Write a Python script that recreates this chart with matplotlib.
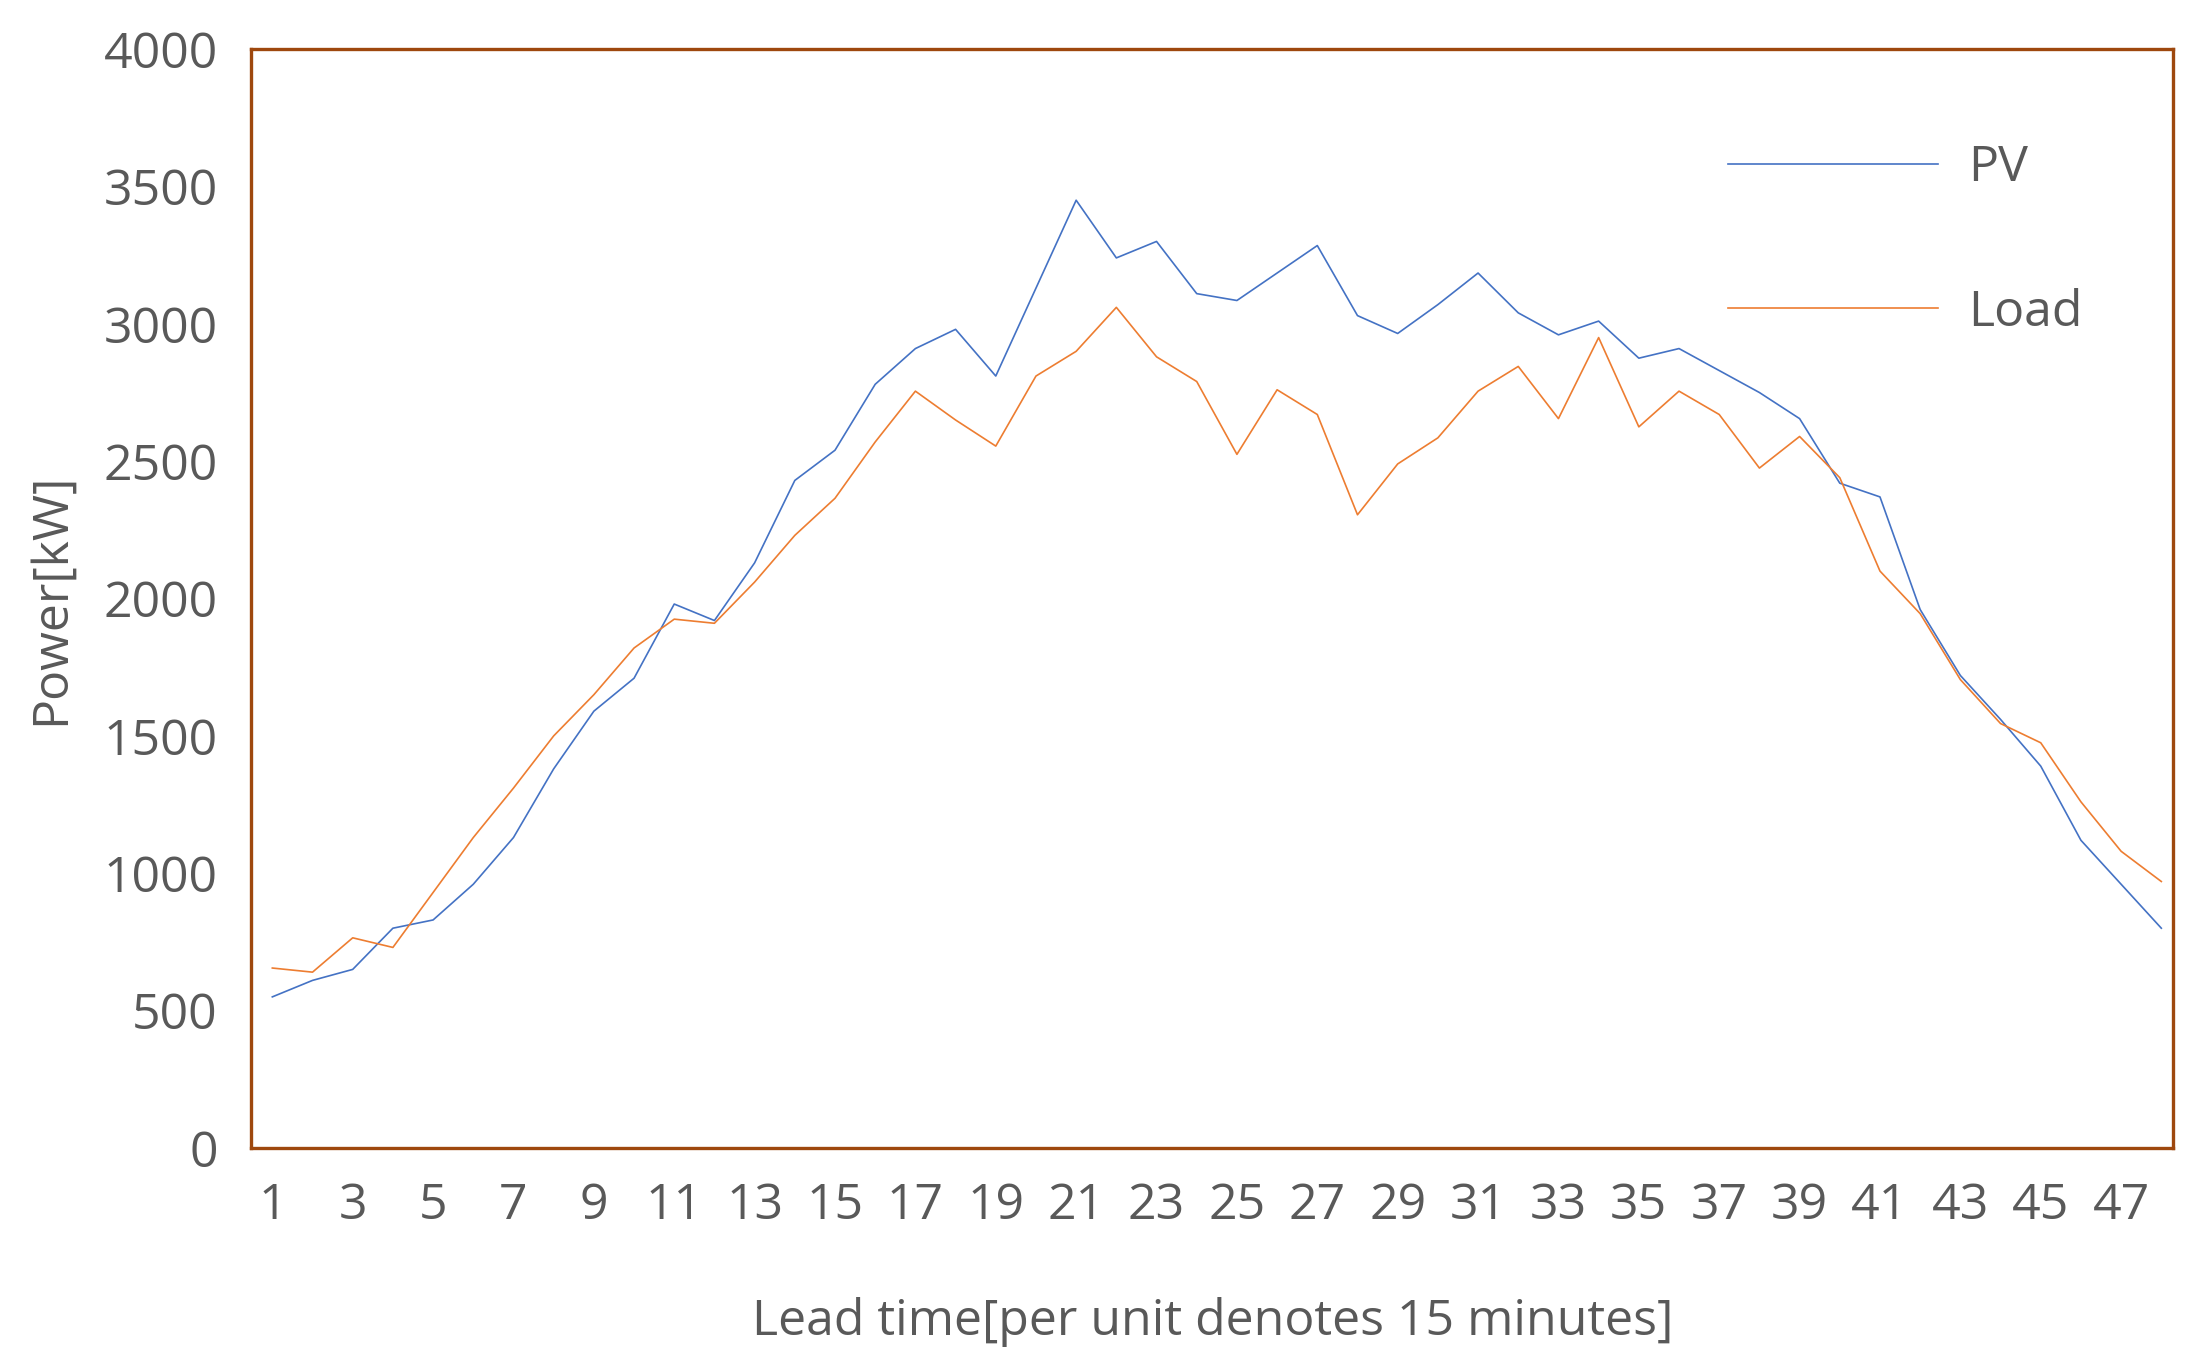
import matplotlib
matplotlib.use("Agg")
import matplotlib.pyplot as plt

x = list(range(1, 49))
pv = [550, 610, 650, 800, 830, 960, 1130, 1380, 1590, 1710, 1980, 1920, 2130, 2430, 2540, 2780,
      2910, 2980, 2810, 3130, 3450, 3240, 3300, 3110, 3085, 3185, 3285, 3030, 2965, 3070, 3185, 3040,
      2960, 3010, 2875, 2910, 2830, 2750, 2655, 2420, 2370, 1960, 1720, 1560, 1390, 1120, 960, 800]
load = [655, 640, 765, 730, 930, 1130, 1310, 1500, 1650, 1820, 1925, 1910, 2060, 2230, 2365, 2570,
        2755, 2650, 2555, 2810, 2900, 3060, 2880, 2790, 2525, 2760, 2670, 2305, 2490, 2585, 2755, 2845,
        2655, 2950, 2625, 2755, 2670, 2475, 2590, 2440, 2100, 1945, 1705, 1545, 1475, 1260, 1080, 970]
xticks = list(range(1, 48, 2))
yticks = list(range(0, 4001, 500))

plt.rcParams['font.family'] = ['Open Sans', 'DejaVu Sans']
fig = plt.figure(figsize=(11.01, 6.825), dpi=200)
ax = fig.add_axes([0.114, 0.159, 0.873, 0.805])
ax.plot(x, pv, color='#4472C4', lw=0.6, label='PV')
ax.plot(x, load, color='#ED7D31', lw=0.6, label='Load')
ax.set_xlim(0.47, 48.3)
ax.set_ylim(0, 4000)
ax.set_xticks(xticks)
ax.set_yticks(yticks)
ax.tick_params(length=0, labelsize=18, colors='#595959', pad=12)
for s in ax.spines.values():
    s.set_color('#9E480E')
    s.set_linewidth(1.2)
ax.set_xlabel('Lead time[per unit denotes 15 minutes]', fontsize=18, color='#595959', labelpad=24)
ax.set_ylabel('Power[kW]', fontsize=18, color='#595959', labelpad=10)
ax.legend(loc='upper left', bbox_to_anchor=(0.745, 0.955), frameon=False, fontsize=18,
          handlelength=4.2, handletextpad=0.6, labelspacing=1.9, labelcolor='#595959')
fig.savefig('out.png', dpi=200)
